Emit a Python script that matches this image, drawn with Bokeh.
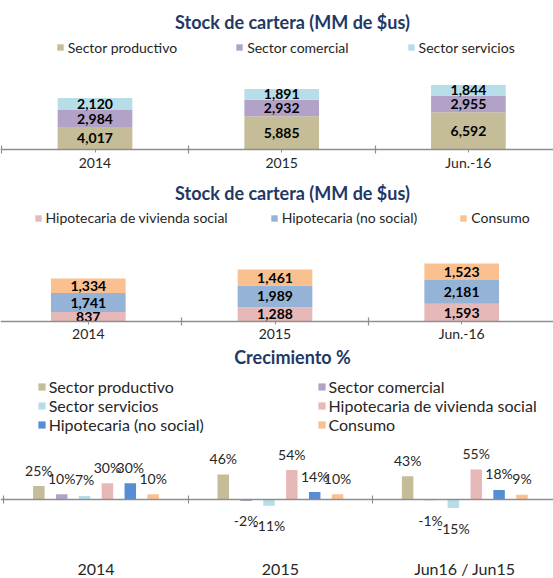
from bokeh.plotting import figure
from bokeh.models import (ColumnDataSource, LinearAxis, FixedTicker, Range1d,
                          Legend, LegendItem, Label)
from bokeh.layouts import column
from bokeh.embed import file_html
from bokeh.resources import INLINE
from bokeh.core.properties import value

# ---------------- data ----------------
periods_stock = ["2014", "2015", "Jun.-16"]

sector_names = ["Sector productivo", "Sector comercial", "Sector servicios"]
sector_productivo = [4017, 5885, 6592]
sector_comercial = [2984, 2932, 2955]
sector_servicios = [2120, 1891, 1844]

household_names = ["Hipotecaria de vivienda social", "Hipotecaria (no social)", "Consumo"]
hipotecaria_social = [837, 1288, 1593]
hipotecaria_no_social = [1741, 1989, 2181]
consumo = [1334, 1461, 1523]

periods_growth = ["2014", "2015", "Jun16 / Jun15"]
growth_names = ["Sector productivo", "Sector comercial", "Sector servicios",
                "Hipotecaria de vivienda social", "Hipotecaria (no social)", "Consumo"]
growth_productivo = [25, 46, 43]
growth_comercial = [10, -2, -1]
growth_servicios = [7, -11, -15]
growth_social = [30, 54, 55]
growth_no_social = [30, 14, 18]
growth_consumo = [10, 10, 9]

# ---------------- style ----------------
FONT = "Lato"
TITLE_COLOR = "#1F3864"
TEXT_COLOR = "#262626"
AXIS_COLOR = "#8E8E8E"
C_PROD = "#C4BD97"
C_COM = "#B3A2C7"
C_SERV = "#B7DEE8"
C_SOC = "#E6B9B8"
C_NOSOC = "#95B3D7"
C_NOSOC_BRIGHT = "#558ED5"
C_CONS = "#FAC090"

W = 553


def base_fig(height, cat_px0, cat_step, zero_from_bottom, px_per_unit):
    x0 = -cat_px0 / cat_step
    x1 = (W - cat_px0) / cat_step
    y0 = -zero_from_bottom / px_per_unit
    y1 = (height - zero_from_bottom) / px_per_unit
    p = figure(width=W, height=height, x_range=Range1d(x0, x1), y_range=Range1d(y0, y1),
               output_backend="svg", toolbar_location=None,
               x_axis_location=None, y_axis_location=None, min_border=0)
    p.outline_line_color = None
    p.background_fill_color = "white"
    p.border_fill_color = "white"
    p.xgrid.visible = False
    p.ygrid.visible = False
    return p


def add_axis(p, periods, font_size, tick_out, standoff):
    ticks = list(range(len(periods)))
    ax = LinearAxis(fixed_location=0,
                    ticker=FixedTicker(ticks=ticks,
                                       minor_ticks=[i - 0.5 for i in range(len(periods) + 1)]),
                    major_label_overrides={i: t for i, t in enumerate(periods)})
    ax.axis_line_color = AXIS_COLOR
    ax.axis_line_width = 1.5
    ax.major_tick_line_color = AXIS_COLOR if tick_out > 0 else None
    ax.major_tick_out = tick_out
    ax.major_tick_in = 0
    ax.minor_tick_line_color = AXIS_COLOR
    ax.minor_tick_line_width = 1.2
    ax.minor_tick_in = 4
    ax.minor_tick_out = 4
    ax.major_label_standoff = standoff
    ax.major_label_text_font = FONT
    ax.major_label_text_font_size = font_size
    ax.major_label_text_color = TEXT_COLOR
    p.add_layout(ax, "below")


def add_title(p, text, y):
    p.add_layout(Label(x=292, y=y, x_units="screen", y_units="screen", text=text,
                       text_align="center", text_baseline="middle",
                       text_font=FONT, text_font_style="bold",
                       text_font_size="18px", text_color=TITLE_COLOR))


def stacked_panel(title, periods, names, series, colors, height, cat_px0, zero_fb, ppu,
                  title_y, legend_xy, legend_spacing):
    p = base_fig(height, cat_px0, 186.7, zero_fb, ppu)
    xs = list(range(len(periods)))
    data = {"x": xs}
    keys = []
    for i, s in enumerate(series):
        data[f"s{i}"] = s
        keys.append(f"s{i}")
    src = ColumnDataSource(data)
    rs = p.vbar_stack(keys, x="x", width=0.4, color=colors, line_color=None, source=src)

    lx, ly, lt = [], [], []
    for j in range(len(periods)):
        bottom = 0
        for s in series:
            lx.append(xs[j])
            ly.append(bottom + s[j] / 2)
            lt.append(f"{s[j]:,}")
            bottom += s[j]
    p.text(x=lx, y=ly, text=lt, text_align="center", text_baseline="middle",
           text_font=value(FONT), text_font_style="bold", text_font_size="14px",
           text_color="#000000")

    add_axis(p, periods, "14px", 3, 0)
    add_title(p, title, title_y)

    legend = Legend(items=[LegendItem(label=n, renderers=[r]) for n, r in zip(names, rs)],
                    location=legend_xy, orientation="horizontal", spacing=legend_spacing,
                    padding=0, margin=0, glyph_width=8, glyph_height=8, label_standoff=4,
                    label_height=16, label_text_font=FONT, label_text_font_size="14px",
                    label_text_color=TEXT_COLOR, border_line_color=None,
                    background_fill_alpha=0)
    p.add_layout(legend)
    return p


p1 = stacked_panel("Stock de cartera (MM de $us)", periods_stock, sector_names,
                   [sector_productivo, sector_comercial, sector_servicios],
                   [C_PROD, C_COM, C_SERV], 172, 94.5, 22.7, 0.00568,
                   150.3, (55.7, 116.3), 58)

p2 = stacked_panel("Stock de cartera (MM de $us)", periods_stock, household_names,
                   [hipotecaria_social, hipotecaria_no_social, consumo],
                   [C_SOC, C_NOSOC, C_CONS], 172, 87.8, 23.3, 0.0109,
                   151.7, (33.5, 117.7), 42)

# ---------------- growth panel ----------------
H3 = 233
p3 = base_fig(H3, 95.5, 184.4, H3 - 155.3, 0.55)
growth_series = [growth_productivo, growth_comercial, growth_servicios,
                 growth_social, growth_no_social, growth_consumo]
growth_colors = [C_PROD, C_COM, C_SERV, C_SOC, C_NOSOC_BRIGHT, C_CONS]
step = 0.124
renderers = []
for j, (vals, col) in enumerate(zip(growth_series, growth_colors)):
    off = (j - 2.5) * step
    xs = [i + off for i in range(len(periods_growth))]
    src = ColumnDataSource(dict(x=xs, top=vals,
                                lab=[f"{v}%" for v in vals],
                                yoff=[-16 if v >= 0 else 20 for v in vals]))
    r = p3.vbar(x="x", top="top", bottom=0, width=0.0624, color=col, line_color=None,
                source=src)
    renderers.append(r)
    p3.text(x="x", y="top", text="lab", y_offset="yoff", source=src,
            text_align="center", text_baseline="middle",
            text_font=value(FONT), text_font_size="14px", text_color=TEXT_COLOR)

add_axis(p3, periods_growth, "16px", 0, 55)
add_title(p3, "Crecimiento %", H3 - 12.7)

for idxs, lx in (([0, 2, 4], 36.7), ([1, 3, 5], 316.5)):
    lg = Legend(items=[LegendItem(label=growth_names[k], renderers=[renderers[k]]) for k in idxs],
                location=(lx, H3 - 80.7 - 9.5), orientation="vertical", spacing=0,
                padding=0, margin=0, glyph_width=9, glyph_height=9, label_standoff=3,
                label_height=19, label_text_font=FONT, label_text_font_size="16px",
                label_text_color=TEXT_COLOR, border_line_color=None,
                background_fill_alpha=0)
    p3.add_layout(lg)

layout = column(p1, p2, p3, spacing=0)
open("out.html", "w").write(file_html(layout, INLINE))
